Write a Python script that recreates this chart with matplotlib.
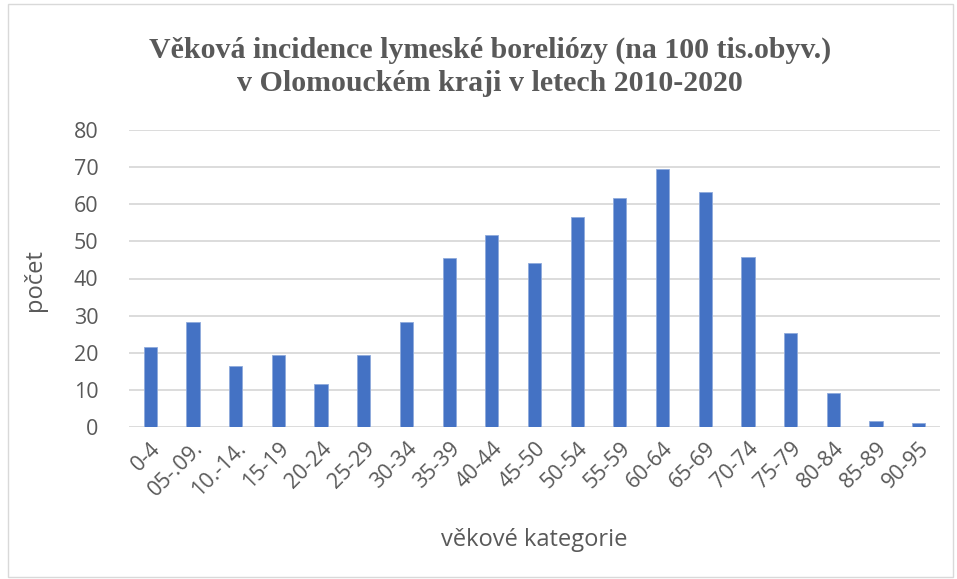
import matplotlib
matplotlib.use("Agg")
import matplotlib.pyplot as plt
from matplotlib.patches import Rectangle

categories = ["0-4", "05-.09.", "10.-14.", "15-19", "20-24", "25-29", "30-34", "35-39",
              "40-44", "45-50", "50-54", "55-59", "60-64", "65-69", "70-74", "75-79",
              "80-84", "85-89", "90-95"]
values = [21.5, 28.4, 16.3, 19.3, 11.7, 19.3, 28.2, 45.5, 51.7, 44.3, 56.6, 61.6,
          69.5, 63.2, 45.8, 25.2, 9.2, 1.5, 1.0]
yticks = [0, 10, 20, 30, 40, 50, 60, 70, 80]

title = "Věková incidence lymeské boreliózy (na 100 tis.obyv.)\nv Olomouckém kraji v letech 2010-2020"
xlabel = "věkové kategorie"
ylabel = "počet"

W, H = 957, 579
fig = plt.figure(figsize=(W / 100, H / 100), dpi=100)
left, right, bottom, top = 129, 940, 427, 130
ax = fig.add_axes([left / W, 1 - bottom / H, (right - left) / W, (bottom - top) / H])

x = list(range(len(categories)))
ax.bar(x, values, width=0.31, color="#4472C4", edgecolor="#8FAADC", linewidth=0.6, zorder=3)
ax.set_xlim(-0.5, len(categories) - 0.5)
ax.set_ylim(0, 80)
ax.set_yticks(yticks)
ax.yaxis.grid(True, color="#D9D9D9", linewidth=1.3, zorder=0)
for s in ax.spines.values():
    s.set_visible(False)
ax.tick_params(axis="both", length=0, colors="#595959", labelsize=15.5)
ax.tick_params(axis="y", pad=22)
ax.set_xticks(x)
ax.set_xticklabels(categories, rotation=45, ha="right", rotation_mode="anchor",
                   fontfamily="Open Sans", color="#595959")
for lab in ax.get_yticklabels():
    lab.set_fontfamily("Open Sans")
ax.tick_params(axis="x", pad=8)

fig.text(35 / W, 1 - 280 / H, ylabel, rotation=90, ha="center", va="center",
         fontsize=17, color="#595959", fontfamily="Open Sans")
fig.text(534 / W, 1 - 540 / H, xlabel, ha="center", va="center",
         fontsize=17, color="#595959", fontfamily="Open Sans")
fig.text(490 / W, 1 - 67 / H, title, ha="center", va="center", fontsize=21.5,
         fontweight="bold", color="#595959", fontfamily="Liberation Serif", linespacing=1.3)

fig.patches.append(Rectangle((8 / W, 2 / H), (W - 12) / W, (H - 6) / H, transform=fig.transFigure,
                             fill=False, edgecolor="#D9D9D9", linewidth=1))

fig.savefig("out.png", dpi=100)
